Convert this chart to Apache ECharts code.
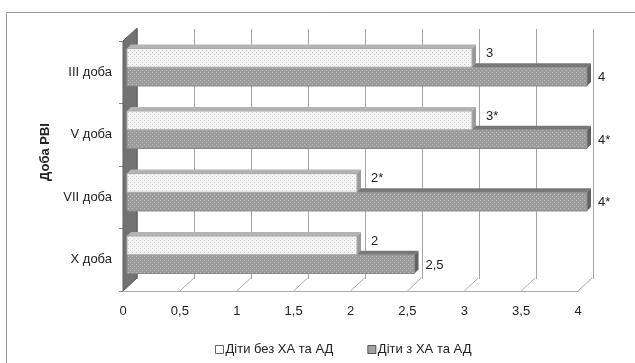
<!DOCTYPE html>
<html>
<head>
<meta charset="utf-8">
<script src="https://cdn.jsdelivr.net/npm/echarts@6/dist/echarts.min.js"></script>
<style>
  html, body { margin: 0; padding: 0; background: #fff; }
  #chart { width: 635px; height: 363px; }
</style>
</head>
<body>
<div id="chart"></div>
<script>
// data
const categories = ['III доба', 'V доба', 'VII доба', 'X доба'];
const withoutHA = [3, 3, 2, 2];        // Діти без ХА та АД
const withHA = [4, 4, 4, 2.5];         // Діти з ХА та АД
const labelsWithout = ['3', '3*', '2*', '2'];
const labelsWith = ['4', '4*', '4*', '2,5'];
const xTicks = [0, 0.5, 1, 1.5, 2, 2.5, 3, 3.5, 4];

const FONT = '"Liberation Sans", Arial, sans-serif';
const DX = 14, DY = 13;   // depth of the 3d box
const BD = 4;             // depth of bars

function makePattern(bg, dot) {
  const c = document.createElement('canvas');
  c.width = 4; c.height = 4;
  const ctx = c.getContext('2d');
  ctx.fillStyle = bg;
  ctx.fillRect(0, 0, 4, 4);
  ctx.fillStyle = dot;
  ctx.fillRect(0, 0, 1, 1);
  ctx.fillRect(2, 2, 1, 1);
  return c;
}
const lightPat = {image: makePattern('#f4f4f4', '#cdcdcd'), repeat: 'repeat'};
const darkPat = {image: makePattern('#9c9c9c', '#bcbcbc'), repeat: 'repeat'};

function barRender(fill, border, topC, sideC, labels, below, lx, ly) {
  return function (params, api) {
    const idx = api.value(1), v = api.value(0);
    const p0 = api.coord([0, idx]), p1 = api.coord([v, idx]);
    const h = api.size([0, 1])[1] * 0.3;
    const y0 = below ? p0[1] : p0[1] - h, y1 = y0 + h;
    const x0 = p0[0], x1 = p1[0];
    return {
      type: 'group',
      children: [
        {type: 'polygon', shape: {points: [[x0, y0], [x1, y0], [x1 + BD, y0 - BD], [x0 + BD, y0 - BD]]},
          style: {fill: topC}},
        {type: 'polygon', shape: {points: [[x1, y0], [x1 + BD, y0 - BD], [x1 + BD, y1 - BD], [x1, y1]]},
          style: {fill: sideC}},
        {type: 'rect', shape: {x: x0, y: y0, width: x1 - x0, height: h},
          style: {fill: fill, stroke: border, lineWidth: 1}},
        {type: 'text', style: {text: labels[idx], x: x1 + lx, y: (y0 + y1) / 2 + ly,
          font: '13px ' + FONT, fill: '#222', verticalAlign: 'middle', align: 'left'}}
      ]
    };
  };
}

const chart = echarts.init(document.getElementById('chart'), null, {renderer: 'canvas'});

const option = {
  backgroundColor: '#fff',
  animation: false,
  textStyle: {fontFamily: FONT},
  graphic: [
    {type: 'rect', shape: {x: 6.5, y: 12.5, width: 700, height: 400},
      style: {fill: 'none', stroke: '#9a9a9a', lineWidth: 1}, silent: true},
    {type: 'text', x: 45, y: 152, rotation: Math.PI / 2,
      style: {text: 'Доба РВІ', font: 'bold 13px ' + FONT, fill: '#222', align: 'center', verticalAlign: 'middle'}}
  ],
  legend: {
    left: 210, top: 338,
    itemWidth: 8, itemHeight: 8, itemGap: 34,
    textStyle: {fontSize: 13, color: '#222', padding: [0, 0, 0, -3]},
    data: [
      {name: 'Діти без ХА та АД', icon: 'rect', itemStyle: {color: '#fff', borderColor: '#666', borderWidth: 1}},
      {name: 'Діти з ХА та АД', icon: 'rect', itemStyle: {color: '#a0a0a0', borderColor: '#555', borderWidth: 1}}
    ]
  },
  grid: [
    {left: 137, right: 42, top: 29, height: 250},   // back wall
    {left: 123, right: 57, top: 41, height: 250},   // front plane (axes)
    {left: 127, right: 48, top: 36, height: 250}    // bars
  ],
  xAxis: [
    {gridIndex: 0, type: 'value', min: 0, max: 4, interval: 0.5,
      axisLine: {show: false}, axisTick: {show: false}, axisLabel: {show: false},
      splitLine: {show: true, lineStyle: {color: '#a5a5a5', width: 1}}},
    {gridIndex: 1, type: 'value', min: 0, max: 4, interval: 0.5,
      axisLine: {show: true, lineStyle: {color: '#aaa'}}, axisTick: {show: false},
      splitLine: {show: false},
      axisLabel: {margin: 14, fontSize: 13, color: '#222',
        formatter: v => String(v).replace('.', ',')}},
    {gridIndex: 2, type: 'value', min: 0, max: 4, show: false, splitLine: {show: false}}
  ],
  yAxis: [
    {gridIndex: 0, type: 'category', data: categories, inverse: true, show: false},
    {gridIndex: 1, type: 'category', data: categories, inverse: true,
      axisLine: {show: false},
      axisTick: {show: true, length: 4, lineStyle: {color: '#888'}},
      axisLabel: {margin: 11, fontSize: 13, color: '#222'}},
    {gridIndex: 2, type: 'category', data: categories, inverse: true, show: false}
  ],
  series: [
    {
      type: 'custom', xAxisIndex: 1, yAxisIndex: 1, silent: true, z: 1,
      data: xTicks.map(v => [v, 0]),
      encode: {x: 0, y: 1},
      renderItem: function (params, api) {
        const cs = params.coordSys;
        const x = api.coord([api.value(0), 0])[0];
        const yb = cs.y + cs.height;
        return {type: 'line', shape: {x1: x, y1: yb, x2: x + DX, y2: yb - DY},
          style: {stroke: '#aaa', lineWidth: 1}};
      }
    },
    {
      type: 'custom', xAxisIndex: 1, yAxisIndex: 1, silent: true, z: 2,
      data: [[0, 0]],
      encode: {x: 0, y: 1},
      renderItem: function (params, api) {
        const cs = params.coordSys;
        const x = cs.x, yt = cs.y, yb = cs.y + cs.height;
        return {type: 'polygon',
          shape: {points: [[x, yt], [x + DX, yt - DY], [x + DX, yb - DY], [x, yb]]},
          style: {fill: '#727272', stroke: '#5e5e5e', lineWidth: 1}};
      }
    },
    {
      name: 'Діти з ХА та АД', type: 'custom', xAxisIndex: 2, yAxisIndex: 2, z: 3,
      data: withHA.map((v, i) => [v, i]),
      encode: {x: 0, y: 1},
      itemStyle: {color: '#a0a0a0'},
      renderItem: barRender(darkPat, '#8a8a8a', '#777', '#626262', labelsWith, true, 11, 1)
    },
    {
      name: 'Діти без ХА та АД', type: 'custom', xAxisIndex: 2, yAxisIndex: 2, z: 4,
      data: withoutHA.map((v, i) => [v, i]),
      encode: {x: 0, y: 1},
      itemStyle: {color: '#fff'},
      renderItem: barRender(lightPat, '#aaa', '#b4b4b4', '#9a9a9a', labelsWithout, false, 14, -4)
    }
  ]
};

chart.setOption(option);
window.addEventListener('resize', () => {
  chart.resize();
});
</script>
</body>
</html>
